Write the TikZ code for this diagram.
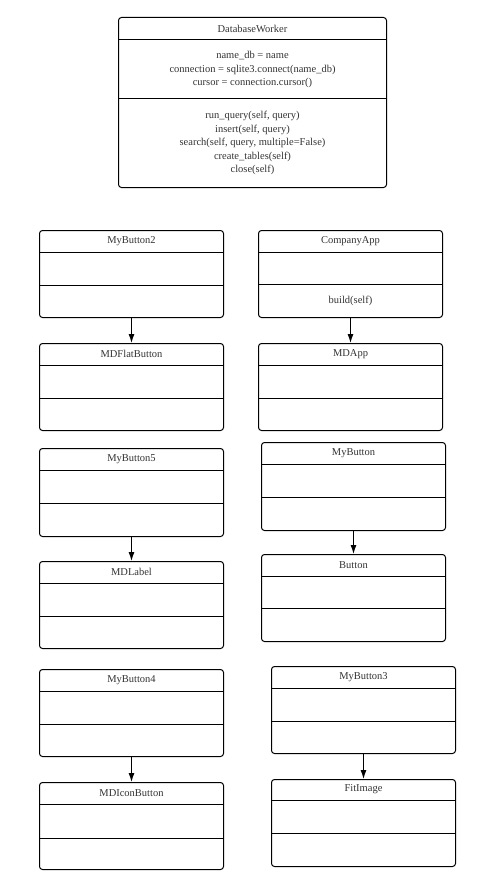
\documentclass[tikz,border=0pt]{standalone}
\usepackage{fontspec}
\setmainfont{Liberation Serif}
\usetikzlibrary{arrows.meta,positioning,calc}
\usepackage{xcolor}
\definecolor{ctext}{HTML}{333333}
\tikzset{
  classbox/.style  = {draw, line width=1pt, rounded corners=3pt, rectangle,
                      inner sep=0pt, anchor=north west},
  classtext/.style = {text=ctext, align=center, inner sep=0pt,
                      font=\fontsize{10.5}{13.5}\selectfont},
  inherit/.style   = {-{Latex[length=9pt,width=6pt]}, line width=1pt},
}
% id, top left, width, heights of the three parts, name, fields, methods
\newcommand{\umlclass}[9]{%
  \node[classbox, minimum width=#3, minimum height=#4+#5+#6] (#1) at (#2) {};
  \node[classtext] (#1-name) at ($(#1.north)+(0,#4/2)$) {#7};
  \node[classtext] (#1-attr) at ($(#1.north)+(0,#4+#5/2)$) {#8};
  \node[classtext] (#1-meth) at ($(#1.north)+(0,#4+#5+#6/2)$) {#9};
  \draw[line width=1pt] ($(#1.north west)+(0,#4)$) -- ($(#1.north east)+(0,#4)$);
  \draw[line width=1pt] ($(#1.north west)+(0,#4+#5)$) -- ($(#1.north east)+(0,#4+#5)$);
}
\begin{document}
\begin{tikzpicture}[x=1pt,y=-1pt]
\useasboundingbox (0,0) rectangle (480,880);
% database
\umlclass{dbw}{118,17}{268}{23}{59}{88}{DatabaseWorker}
  {name\_db = name\\connection = sqlite3.connect(name\_db)\\cursor = connection.cursor()}
  {run\_query(self, query)\\insert(self, query)\\search(self, query, multiple=False)\\create\_tables(self)\\close(self)}
% left column
\umlclass{mbtwo}{39,230}{184}{22}{33}{32}{MyButton2}{}{}
\umlclass{mdflat}{39,343}{184}{22}{33}{32}{MDFlatButton}{}{}
\umlclass{mbfive}{39,448}{184}{22}{33}{33}{MyButton5}{}{}
\umlclass{mdlabel}{39,561}{184}{22}{33}{32}{MDLabel}{}{}
\umlclass{mbfour}{39,669}{184}{22}{33}{32}{MyButton4}{}{}
\umlclass{mdicon}{39,782}{184}{22}{34}{31}{MDIconButton}{}{}
% right column
\umlclass{app}{258,230}{184}{22}{32}{33}{CompanyApp}{}{build(self)}
\umlclass{mdapp}{258,343}{184}{22}{33}{32}{MDApp}{}{}
\umlclass{mybtn}{261,442}{184}{22}{33}{33}{MyButton}{}{}
\umlclass{kvbtn}{261,554}{184}{22}{32}{33}{Button}{}{}
\umlclass{mbthree}{271,666}{184}{22}{33}{32}{MyButton3}{}{}
\umlclass{fitimg}{271,779}{184}{21}{33}{33}{FitImage}{}{}
% inheritance
\draw[inherit] (mbtwo.south) -- (mdflat.north);
\draw[inherit] (mbfive.south) -- (mdlabel.north);
\draw[inherit] (mbfour.south) -- (mdicon.north);
\draw[inherit] (app.south) -- (mdapp.north);
\draw[inherit] (mybtn.south) -- (kvbtn.north);
\draw[inherit] (mbthree.south) -- (fitimg.north);
\end{tikzpicture}
\end{document}
